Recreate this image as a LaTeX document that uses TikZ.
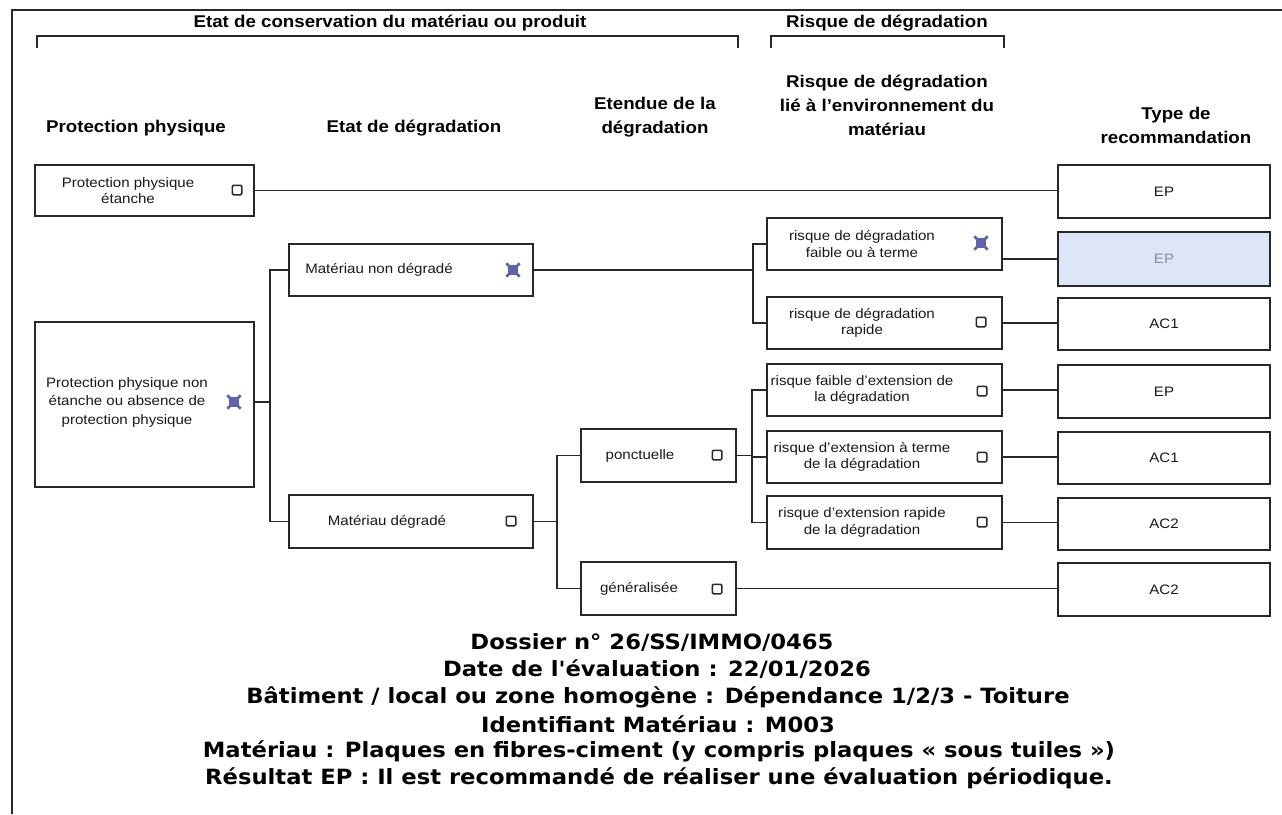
\documentclass[tikz,border=0pt]{standalone}
\usepackage{fontspec}
\setmainfont{Liberation Sans}[FakeStretch=1.1]
\newfontfamily\footfont{DejaVu Sans}[FakeStretch=1.08]
\usetikzlibrary{calc}
\definecolor{ln}{RGB}{40,40,40}
\definecolor{xmark}{RGB}{98,98,168}
\definecolor{hl}{RGB}{221,230,248}
\definecolor{hltxt}{RGB}{135,140,160}
\tikzset{
 box/.style={draw=ln, line width=1.6pt, inner sep=0pt, fill=white},
 lbl/.style={font=\fontsize{13.7}{16.5}\selectfont, align=center, inner sep=0pt, text=black!90},
 hdr/.style={font=\fontsize{17}{24}\selectfont\bfseries, align=center, inner sep=0pt},
 cb/.style={draw=ln, line width=1.5pt, minimum size=9.5pt, inner sep=0pt, rounded corners=1.2pt},
 cbx/.style={fill=xmark, minimum size=10pt, inner sep=0pt},
 conn/.style={draw=ln, line width=1.4pt},
 foot/.style={font=\footfont\fontsize{21}{27}\selectfont\bfseries, align=center, inner sep=0pt},
}
\newcommand{\xcheck}[2]{%
  \node[cbx] (#1) at #2 {};
  \draw[xmark, line width=2.6pt] ($(#1.north west)+(-1.5,-1.5)$) -- ($(#1.south east)+(1.5,1.5)$);
  \draw[xmark, line width=2.6pt] ($(#1.north east)+(1.5,-1.5)$) -- ($(#1.south west)+(-1.5,1.5)$);
}
\begin{document}
\begin{tikzpicture}[x=1pt,y=-1pt]
\useasboundingbox (0,0) rectangle (1282,814);
% frame
\draw[conn] (12,814) -- (12,10) -- (1282,10);
% brackets
\draw[conn] (37,48) -- (37,36) -- (738,36) -- (738,48);
\draw[conn] (771,48) -- (771,36) -- (1004,36) -- (1004,48);
\node[hdr] (bt1) at (390,23) {Etat de conservation du matériau ou produit};
\node[hdr] (bt2) at (887,23) {Risque de dégradation};
% headers
\node[hdr] (h1) at (136,128) {Protection physique};
\node[hdr] (h2) at (414,128) {Etat de dégradation};
\node[hdr] (h3) at (655,117) {Etendue de la\\dégradation};
\node[hdr] (h4) at (887,105) {Risque de dégradation\\lié à l'environnement du\\matériau};
\node[hdr] (h5) at (1176,125) {Type de\\recommandation};
% boxes column 1
\node[box, minimum width=219pt, minimum height=51pt] (A) at (144.5,190.5) {};
\node[lbl] (At) at (128,190.5) {Protection physique\\étanche};
\node[cb] (Ac) at (237,190) {};
\node[box, minimum width=219pt, minimum height=165pt] (B) at (144.5,404.5) {};
\node[lbl, font=\fontsize{13.7}{18.5}\selectfont] (Bt) at (127,402) {Protection physique non\\étanche ou absence de\\protection physique};
\xcheck{Bc}{(234,402)}
% column 2
\node[box, minimum width=244pt, minimum height=52pt] (C) at (411,270) {};
\node[lbl] (Ct) at (379,270) {Matériau non dégradé};
\xcheck{Cc}{(513,270)}
\node[box, minimum width=244pt, minimum height=53pt] (D) at (411,521.5) {};
\node[lbl] (Dt) at (387,521.5) {Matériau dégradé};
\node[cb] (Dc) at (511,521) {};
% column 3
\node[box, minimum width=155pt, minimum height=53pt] (E) at (658.5,455.5) {};
\node[lbl] (Et) at (640,455.5) {ponctuelle};
\node[cb] (Ec) at (717,455) {};
\node[box, minimum width=155pt, minimum height=53pt] (F) at (658.5,588.5) {};
\node[lbl] (Ft) at (639,588.5) {généralisée};
\node[cb] (Fc) at (717,589) {};
% column 4
\node[box, minimum width=235pt, minimum height=52pt] (R1) at (884.5,244) {};
\node[lbl] (R1t) at (862,244) {risque de dégradation\\faible ou à terme};
\xcheck{R1c}{(981,243)}
\node[box, minimum width=235pt, minimum height=52pt] (R2) at (884.5,323) {};
\node[lbl] (R2t) at (862,323) {risque de dégradation\\rapide};
\node[cb] (R2c) at (981,322) {};
\node[box, minimum width=235pt, minimum height=52pt] (R3) at (884.5,390) {};
\node[lbl] (R3t) at (862,390) {risque faible d'extension de\\la dégradation};
\node[cb] (R3c) at (982,391) {};
\node[box, minimum width=235pt, minimum height=52pt] (R4) at (884.5,457) {};
\node[lbl] (R4t) at (862,457) {risque d'extension à terme\\de la dégradation};
\node[cb] (R4c) at (982,457) {};
\node[box, minimum width=235pt, minimum height=53pt] (R5) at (884.5,522.5) {};
\node[lbl] (R5t) at (862,522.5) {risque d'extension rapide\\de la dégradation};
\node[cb] (R5c) at (982,522) {};
% column 5
\node[box, minimum width=212pt, minimum height=53pt] (T1) at (1164,191.5) {};
\node[lbl] at (T1.center) {EP};
\node[box, fill=hl, minimum width=212pt, minimum height=54pt] (T2) at (1164,259) {};
\node[lbl, text=hltxt] at (T2.center) {EP};
\node[box, minimum width=212pt, minimum height=52pt] (T3) at (1164,324) {};
\node[lbl] at (T3.center) {AC1};
\node[box, minimum width=212pt, minimum height=53pt] (T4) at (1164,391.5) {};
\node[lbl] at (T4.center) {EP};
\node[box, minimum width=212pt, minimum height=52pt] (T5) at (1164,458) {};
\node[lbl] at (T5.center) {AC1};
\node[box, minimum width=212pt, minimum height=52pt] (T6) at (1164,524) {};
\node[lbl] at (T6.center) {AC2};
\node[box, minimum width=212pt, minimum height=53pt] (T7) at (1164,589.5) {};
\node[lbl] at (T7.center) {AC2};
% junction coordinates
\coordinate (j1) at (270,402);
\coordinate (j2) at (753,270);
\coordinate (j3) at (557,521.5);
\coordinate (j4) at (752,455.5);
% connectors
\draw[conn] (A.east) -- (A.east -| T1.west);
\draw[conn] (B.east |- j1) -- (j1);
\draw[conn] (C.west) -- (C.west -| j1) -- (D.west -| j1) -- (D.west);
\draw[conn] (C.east) -- (j2);
\draw[conn] (R1.west) -- (R1.west -| j2) -- (R2.west -| j2) -- (R2.west);
\draw[conn] (T2.west -| R1.east) -- (T2.west);
\draw[conn] (R2.east) -- (R2.east -| T3.west);
\draw[conn] (D.east) -- (j3);
\draw[conn] (E.west) -- (E.west -| j3) -- (F.west -| j3) -- (F.west);
\draw[conn] (E.east) -- (j4);
\draw[conn] (R3.west) -- (R3.west -| j4) -- (R5.west -| j4) -- (R5.west);
\draw[conn] (R4.west -| j4) -- (R4.west);
\draw[conn] (F.east) -- (F.east -| T7.west);
\draw[conn] (R3.east) -- (R3.east -| T4.west);
\draw[conn] (R4.east) -- (R4.east -| T5.west);
\draw[conn] (R5.east) -- (R5.east -| T6.west);
% footer
\node[foot] (f1) at (652,642) {Dossier n° 26/SS/IMMO/0465};
\node[foot] (f2) at (657,669) {Date de l'évaluation : 22/01/2026};
\node[foot] (f3) at (658,697) {Bâtiment / local ou zone homogène : Dépendance 1/2/3 - Toiture};
\node[foot] (f4) at (658,724) {Identifiant Matériau : M003};
\node[foot] (f5) at (659,751) {Matériau : Plaques en fibres-ciment (y compris plaques « sous tuiles »)};
\node[foot] (f6) at (659,778) {Résultat EP : Il est recommandé de réaliser une évaluation périodique.};
\end{tikzpicture}
\end{document}
